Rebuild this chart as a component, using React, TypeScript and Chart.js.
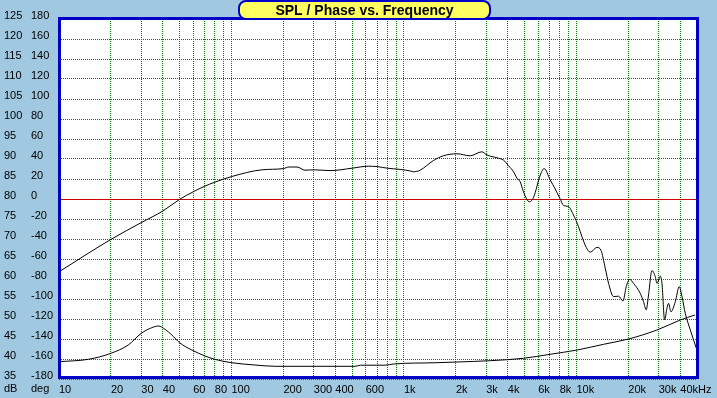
import React, { useEffect, useRef } from 'react';
import { Chart, registerables } from 'chart.js';

Chart.register(...registerables);

// SPL curve (Hz, dB)
const splFreq = [
  10, 20, 30, 40, 50, 60, 70, 80, 100, 150, 200, 215, 240, 267, 300, 373, 500, 620, 700, 800,
  950, 1090, 1135, 1240, 1480, 1690, 2030, 2420, 2830, 3030, 3460, 3780, 4040, 4320, 4520, 4720,
  4930, 5340, 5640, 6170, 6500, 7040, 7530, 8050, 8410, 8990, 9610, 10280, 10760, 11400, 12020,
  13150, 13870, 14690, 15360, 16410, 17540, 18610, 19450, 20330, 21440, 23440, 24490, 25390,
  26180, 27400, 28640, 29300, 30620, 31330, 32430, 33490, 34210, 35310, 37410, 39460, 40930,
  42760, 45700, 49530,
];
const splDb = [
  61.8, 69.9, 74.1, 77.0, 79.9, 81.8, 83.2, 84.2, 85.6, 87.3, 87.6, 88.0, 88.0, 87.2, 87.3, 87.1,
  87.7, 88.2, 88.1, 87.7, 87.4, 87.0, 86.8, 87.2, 89.6, 90.8, 91.3, 90.8, 91.8, 91.0, 90.3, 89.7,
  88.3, 86.8, 85.2, 84.3, 81.8, 79.3, 80.4, 86.0, 87.6, 84.8, 82.5, 80.0, 78.4, 78.1, 76.0, 73.1,
  70.6, 67.9, 66.7, 67.9, 67.2, 62.7, 58.9, 55.6, 55.7, 54.5, 58.1, 59.9, 58.9, 56.4, 54.3, 52.3,
  56.0, 62.1, 60.6, 58.9, 60.7, 58.9, 49.8, 52.7, 53.9, 51.8, 54.3, 58.1, 55.6, 51.4, 47.3, 42.7,
];

// Phase curve (Hz, deg)
const phaseFreq = [
  10, 14.8, 20, 25.2, 30, 34.5, 37.7, 41.2, 45.1, 50, 58.9, 70.3, 80, 100, 137, 179, 334, 521,
  560, 778, 869, 1552, 2030, 3162, 4930, 7040, 10100, 14360, 20050, 29300, 40000, 48650,
];
const phaseDeg = [
  -162.7, -160.3, -154.3, -146, -134.3, -128.7, -127, -130.3, -136, -143.7, -151, -157, -160.3,
  -163.7, -166, -167.3, -167.3, -167.3, -166.2, -166.2, -165, -163.7, -163, -161.7, -159.3,
  -155.3, -151, -145.3, -140, -131, -121, -116,
];

// X gridline positions (Hz)
const xGridValues = [
  10, 20, 30, 40, 50, 60, 70, 80, 90,
  100, 200, 300, 400, 500, 600, 700, 800, 900,
  1000, 2000, 3000, 4000, 5000, 6000, 7000, 8000, 9000,
  10000, 20000, 30000, 40000,
];
// X tick labels
const xLabelValues = [10, 20, 30, 40, 60, 80, 100, 200, 300, 400, 600, 1000, 2000, 3000, 4000, 6000, 8000, 10000, 20000, 30000, 40000];
const xLabelTexts = ['10', '20', '30', '40', '60', '80', '100', '200', '300', '400', '600', '1k', '2k', '3k', '4k', '6k', '8k', '10k', '20k', '30k', '40kHz'];

const TITLE = 'SPL / Phase vs. Frequency';
const UNIT_DB = 'dB';
const UNIT_DEG = 'deg';

const BG = 'rgb(160,200,224)';
const FRAME = '#0000c8';
const GRID = 'rgb(0,128,0)';
const ZERO = 'rgb(200,0,0)';
const FONT = '"Liberation Sans", Arial, sans-serif';

const decorPlugin = {
  id: 'decor',
  beforeDraw(chart: any) {
    const { ctx, chartArea: ca, width, height } = chart;
    ctx.save();
    ctx.fillStyle = BG;
    ctx.fillRect(0, 0, width, height);
    ctx.fillStyle = '#ffffff';
    ctx.fillRect(ca.left, ca.top, ca.right - ca.left, ca.bottom - ca.top);
    ctx.restore();
  },
  beforeDatasetsDraw(chart: any) {
    const { ctx, chartArea: ca } = chart;
    const y = Math.round(chart.scales.yDeg.getPixelForValue(0)) + 0.5;
    ctx.save();
    ctx.setLineDash([]);
    ctx.strokeStyle = ZERO;
    ctx.lineWidth = 1;
    ctx.beginPath();
    ctx.moveTo(ca.left, y);
    ctx.lineTo(ca.right, y);
    ctx.stroke();
    ctx.restore();
  },
  afterDraw(chart: any) {
    const { ctx, chartArea: ca } = chart;
    ctx.save();
    ctx.setLineDash([]);
    // frame
    ctx.strokeStyle = FRAME;
    ctx.lineWidth = 3;
    ctx.strokeRect(ca.left + 0.5, ca.top - 0.5, ca.right - ca.left, ca.bottom - ca.top - 1);
    // title box
    const bx = 239, by = 1, bw = 251, bh = 18;
    ctx.beginPath();
    (ctx as any).roundRect(bx, by, bw, bh, 7);
    ctx.fillStyle = '#ffff60';
    ctx.fill();
    ctx.lineWidth = 2;
    ctx.strokeStyle = FRAME;
    ctx.stroke();
    ctx.fillStyle = '#000';
    ctx.font = `bold 14px ${FONT}`;
    ctx.textAlign = 'center';
    ctx.textBaseline = 'alphabetic';
    ctx.fillText(TITLE, bx + bw / 2, 15);
    // unit labels
    ctx.font = `11px ${FONT}`;
    ctx.textAlign = 'left';
    ctx.textBaseline = 'top';
    const ty = ca.bottom + 4;
    ctx.fillText(UNIT_DB, 4, ty);
    ctx.fillText(UNIT_DEG, 31, ty);
    ctx.restore();
  },
};

export default function App() {
  const ref = useRef<HTMLCanvasElement | null>(null);

  useEffect(() => {
    document.body.style.margin = '0';
    const canvas = ref.current;
    if (!canvas) return;
    const tickFont = { family: FONT, size: 11 };
    const chart = new Chart(canvas, {
      type: 'line',
      data: {
        datasets: [
          {
            label: 'SPL',
            data: splFreq.map((f, i) => ({ x: f, y: splDb[i] })),
            yAxisID: 'yDb',
            borderColor: '#000',
            borderWidth: 1,
            pointRadius: 0,
            cubicInterpolationMode: 'monotone',
          },
          {
            label: 'Phase',
            data: phaseFreq.map((f, i) => ({ x: f, y: phaseDeg[i] })),
            yAxisID: 'yDeg',
            borderColor: '#000',
            borderWidth: 1,
            pointRadius: 0,
            cubicInterpolationMode: 'monotone',
          },
        ],
      },
      options: {
        responsive: false,
        animation: false,
        devicePixelRatio: 1,
        layout: { padding: { left: 4, top: 19, right: 20, bottom: 0 } },
        plugins: { legend: { display: false }, tooltip: { enabled: false }, title: { display: false } },
        scales: {
          x: {
            type: 'logarithmic',
            min: 10,
            max: 50000,
            afterBuildTicks: (s: any) => {
              s.ticks = xGridValues.map((v) => ({ value: v }));
            },
            afterFit: (s: any) => {
              s.height = 19;
              s.paddingLeft = 0;
              s.paddingRight = 0;
            },
            grid: { color: GRID, lineWidth: 1, drawTicks: false },
            border: { display: false, dash: [1, 1] },
            ticks: {
              autoSkip: false,
              maxRotation: 0,
              minRotation: 0,
              align: 'start',
              padding: 4,
              color: '#000',
              font: tickFont,
              callback: (v: any) => {
                const i = xLabelValues.indexOf(Number(v));
                return i >= 0 ? xLabelTexts[i] : '';
              },
            },
          },
          yDeg: {
            type: 'linear',
            position: 'left',
            min: -180,
            max: 180,
            afterFit: (s: any) => {
              s.width = 28;
            },
            grid: { color: GRID, lineWidth: 1, drawTicks: false },
            border: { display: false, dash: [1, 1] },
            ticks: { stepSize: 20, crossAlign: 'far', padding: 0, labelOffset: -3, color: '#000', font: tickFont },
          },
          yDb: {
            type: 'linear',
            position: 'left',
            min: 35,
            max: 125,
            afterFit: (s: any) => {
              s.width = 27;
            },
            grid: { display: false, drawTicks: false },
            border: { display: false },
            ticks: { stepSize: 5, crossAlign: 'far', padding: 0, labelOffset: -3, color: '#000', font: tickFont },
          },
        },
      },
      plugins: [decorPlugin],
    } as any);
    return () => chart.destroy();
  }, []);

  return <canvas ref={ref} width={717} height={398} style={{ display: 'block' }} />;
}
